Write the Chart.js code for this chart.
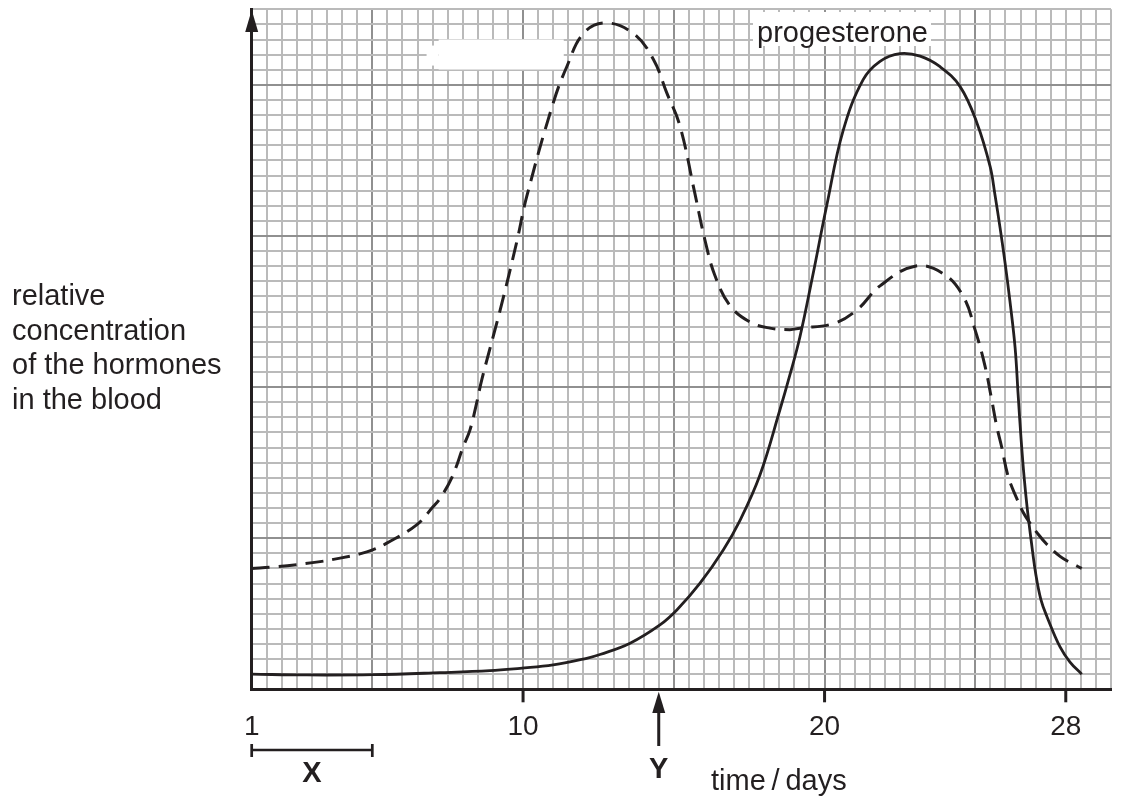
<!DOCTYPE html>
<html>
<head>
<meta charset="utf-8">
<title>hormones in the blood</title>
<script src="https://cdn.jsdelivr.net/npm/chart.js@4.4.0/dist/chart.umd.min.js"></script>
<style>
  html, body { margin: 0; padding: 0; background: #ffffff; }
  #wrap { width: 1126px; height: 801px; }
</style>
</head>
<body>
<div id="wrap"><canvas id="hormoneChart" width="1126" height="801"></canvas></div>
<script>
// values (x = day of the cycle, y = relative level, 1 unit = 1 small square)
let oestrogenDays = [1.0, 1.72, 2.49, 3.27, 3.93, 4.59, 5.01, 5.48, 6.47, 7.02, 7.25, 7.63, 8.02, 8.24, 8.46, 8.63,
  9.24, 9.79, 10.12, 11.0, 11.45, 12.0, 12.72, 13.66, 14.32, 14.76, 15.2, 15.7, 16.03, 16.36, 16.86, 17.53,
  18.19, 18.85, 19.18, 20.29, 21.07, 21.84, 23.0, 23.94, 24.6, 24.99, 25.32, 25.54, 25.71, 25.87, 26.09,
  26.37, 26.59, 26.81, 27.03, 27.37, 27.81, 28.14, 28.53];
let oestrogenLevel = [8.0, 8.1, 8.25, 8.45, 8.68, 8.96, 9.22, 9.67, 10.88, 12.09, 12.65, 13.97, 16.07, 17.17, 18.94, 20.48,
  25.1, 29.6, 32.6, 38.8, 41.2, 43.4, 44.1, 43.4, 41.7, 39.5, 37.3, 32.8, 29.75, 27.4, 25.4, 24.3,
  23.9, 23.8, 23.9, 24.2, 25.1, 26.7, 28.0, 27.5, 26.0, 23.8, 21.4, 19.2, 17.4, 16.07, 14.08,
  12.65, 11.7, 11.0, 10.4, 9.6, 8.8, 8.4, 8.0];

let progesteroneDays = [1.0, 2.82, 5.03, 7.25, 8.9, 9.9, 11.0, 12.11, 12.55, 13.55, 14.54, 15.1, 15.87, 16.64,
  17.2, 17.86, 18.52, 18.85, 19.18, 19.6, 20.07, 20.62, 21.28, 21.84, 22.5, 23.17, 23.83, 24.49, 25.05,
  25.49, 25.65, 25.82, 25.99, 26.15, 26.32, 26.42, 26.52, 26.62, 26.72, 26.85, 27.01, 27.18, 27.38,
  27.81, 28.14, 28.53];
let progesteroneLevel = [1.0, 0.95, 0.97, 1.1, 1.23, 1.39, 1.61, 2.05, 2.3, 3.05, 4.26, 5.25, 7.02, 9.22,
  11.2, 14.2, 18.5, 20.8, 23.3, 27.3, 32.0, 37.0, 40.35, 41.56, 42.07, 41.9, 41.2, 39.9, 37.5,
  34.6, 32.74, 30.55, 28.17, 25.65, 22.6, 19.5, 16.5, 14.0, 12.0, 9.88, 7.57, 5.9, 4.79,
  2.8, 1.8, 1.0];

let dayLabels = [1, 10, 20, 28];
let dayTicks = [10, 20, 28];
let leftLabel = ['relative', 'concentration', 'of the hormones', 'in the blood'];

let ink = '#231f20';
let font = '"Liberation Sans", Arial, Helvetica, sans-serif';

function toPoints(xs, ys) {
    let pts = [];
    xs.forEach((x, i) => pts.push({ x: x, y: ys[i] }));
    return pts;
}

function arrowHead(ctx, x, tipY, baseY, half) {
    ctx.beginPath();
    ctx.moveTo(x, tipY);
    ctx.lineTo(x - half, baseY);
    ctx.lineTo(x + half, baseY);
    ctx.closePath();
    ctx.fill();
}

let paperPlugin = {
    id: 'paper',
    beforeDatasetsDraw(chart) {
        let ctx = chart.ctx;
        let xs = chart.scales.x;
        let ys = chart.scales.y;
        ctx.save();
        ctx.fillStyle = '#ffffff';
        // the erased label over the dashed curve
        ctx.fillRect(xs.getPixelForValue(6.8), ys.getPixelForValue(42.6), xs.getPixelForValue(7.2) - xs.getPixelForValue(6.8), 20);
        ctx.fillRect(xs.getPixelForValue(7.2), ys.getPixelForValue(43.0), xs.getPixelForValue(11.35) - xs.getPixelForValue(7.2), 30);
        // box behind the progesterone label
        ctx.fillRect(753, 12, 178, 34);
        ctx.restore();
    },
    afterDraw(chart) {
        let ctx = chart.ctx;
        let xs = chart.scales.x;
        let area = chart.chartArea;
        let bottom = area.bottom;
        ctx.save();
        ctx.fillStyle = ink;
        ctx.strokeStyle = ink;
        ctx.lineWidth = 3;

        // arrow on top of the y axis
        arrowHead(ctx, area.left, 10, 32, 6.5);

        // tick marks under the x axis
        dayTicks.forEach((d) => {
            let px = xs.getPixelForValue(d);
            ctx.beginPath();
            ctx.moveTo(px, bottom);
            ctx.lineTo(px, bottom + 13);
            ctx.stroke();
        });

        // tick labels
        ctx.font = '28px ' + font;
        ctx.textAlign = 'center';
        ctx.textBaseline = 'alphabetic';
        dayLabels.forEach((d) => {
            ctx.fillText(String(d), xs.getPixelForValue(d), 735);
        });

        // bar X: day 1 to day 5
        let x1 = xs.getPixelForValue(1);
        let x5 = xs.getPixelForValue(5);
        ctx.lineWidth = 2.7;
        ctx.beginPath();
        ctx.moveTo(x1, 750);
        ctx.lineTo(x5, 750);
        ctx.moveTo(x1, 744);
        ctx.lineTo(x1, 757);
        ctx.moveTo(x5, 744);
        ctx.lineTo(x5, 757);
        ctx.stroke();
        ctx.font = 'bold 29px ' + font;
        ctx.fillText('X', xs.getPixelForValue(3), 782);

        // arrow Y at day 14.5
        let yx = xs.getPixelForValue(14.5);
        ctx.lineWidth = 3;
        ctx.beginPath();
        ctx.moveTo(yx, 746);
        ctx.lineTo(yx, 708);
        ctx.stroke();
        arrowHead(ctx, yx, bottom + 2.5, 713, 6.5);
        ctx.fillText('Y', yx, 777.5);

        // axis title
        ctx.font = '29px ' + font;
        ctx.textAlign = 'left';
        ctx.fillText('time\u2009/\u2009days', 711, 790);

        // y axis description
        leftLabel.forEach((line, i) => {
            ctx.fillText(line, 12, 305 + i * 34.5);
        });

        // curve label
        ctx.fillText('progesterone', 757, 41.5);
        ctx.restore();
    }
};

let ctx = document.getElementById('hormoneChart').getContext('2d');
let chart = new Chart(ctx, {
    type: 'line',
    data: {
        datasets: [{
            label: 'oestrogen',
            data: toPoints(oestrogenDays, oestrogenLevel),
            borderColor: ink,
            borderWidth: 3,
            borderDash: [18, 9],
            pointRadius: 0,
            fill: false,
            tension: 0.4
        }, {
            label: 'progesterone',
            data: toPoints(progesteroneDays, progesteroneLevel),
            borderColor: ink,
            borderWidth: 2.8,
            pointRadius: 0,
            fill: false,
            tension: 0.4
        }]
    },
    options: {
        responsive: false,
        animation: false,
        layout: {
            padding: { left: 251.7, right: 15, top: 9.3, bottom: 111.7 }
        },
        plugins: {
            legend: { display: false },
            tooltip: { enabled: false }
        },
        scales: {
            x: {
                type: 'linear',
                min: 1,
                max: 29.5,
                ticks: { display: false, stepSize: 0.5, autoSkip: false },
                grid: {
                    drawTicks: false,
                    lineWidth: 2,
                    color: (c) => (c.tick && c.tick.value % 5 === 0) ? '#909090' : '#bababa'
                },
                border: { display: true, color: ink, width: 3 }
            },
            y: {
                type: 'linear',
                min: 0,
                max: 45,
                ticks: { display: false, stepSize: 1, autoSkip: false },
                grid: {
                    drawTicks: false,
                    lineWidth: 2,
                    color: (c) => (c.tick && c.tick.value % 10 === 0) ? '#909090' : '#bababa'
                },
                border: { display: true, color: ink, width: 3 }
            }
        }
    },
    plugins: [paperPlugin]
});
</script>
</body>
</html>
